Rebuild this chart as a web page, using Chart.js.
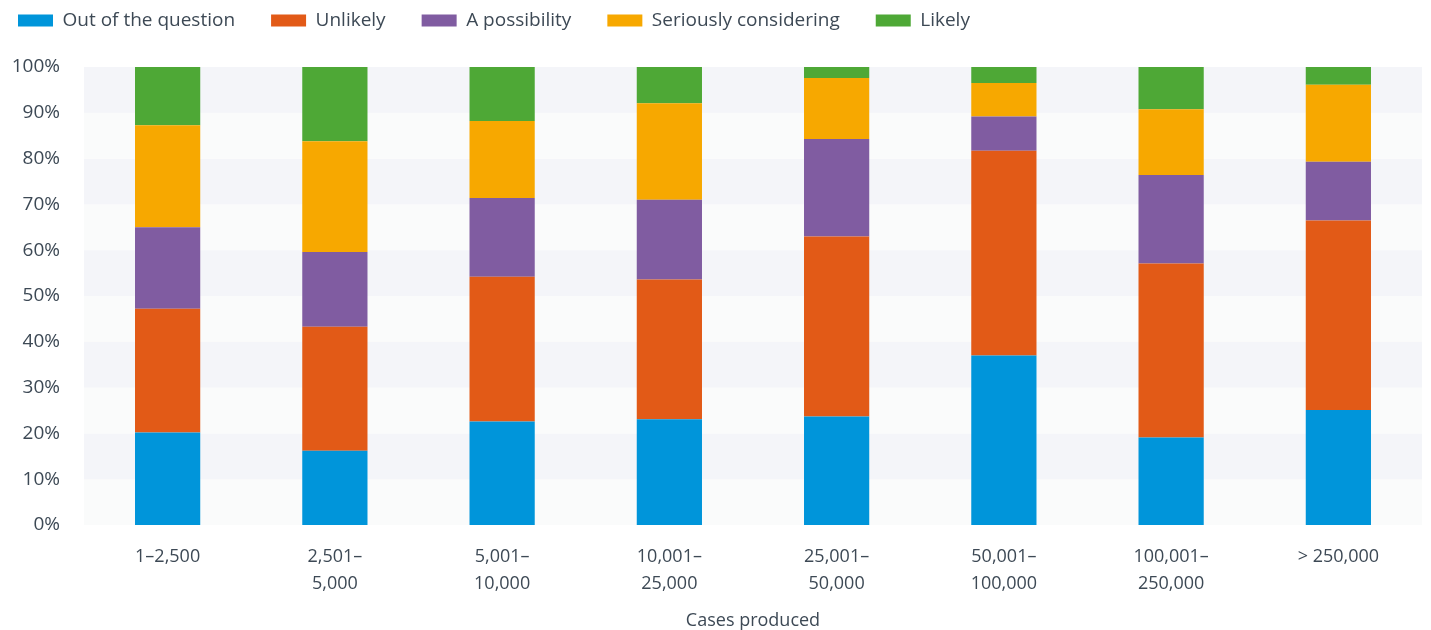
<!DOCTYPE html>
<html>
<head>
  <title>Cases produced</title>
  <script type="text/javascript" src="https://cdn.jsdelivr.net/npm/chart.js"></script>
  <style>
    html, body { margin: 0; padding: 0; background: #ffffff; }
    #chart-container { width: 1431px; height: 630px; }
  </style>
</head>
<body>
  <div id="chart-container">
    <canvas id="cases-chart"></canvas>
  </div>

  <script type="text/javascript">
    const categories = [
      ['1–2,500'], ['2,501–', '5,000'], ['5,001–', '10,000'], ['10,001–', '25,000'],
      ['25,001–', '50,000'], ['50,001–', '100,000'], ['100,001–', '250,000'], ['> 250,000']
    ];
    const outOfQuestion = [20.2, 16.2, 22.6, 23.1, 23.7, 37.0, 19.1, 25.1];
    const unlikely      = [27.0, 27.1, 31.6, 30.5, 39.3, 44.7, 38.0, 41.4];
    const possibility   = [17.8, 16.3, 17.2, 17.4, 21.3, 7.5, 19.3, 12.8];
    const seriously     = [22.3, 24.2, 16.8, 21.1, 13.3, 7.3, 14.4, 16.8];
    const likely        = [12.7, 16.2, 11.8, 7.9, 2.4, 3.5, 9.2, 3.9];
    const yTicks = [0, 10, 20, 30, 40, 50, 60, 70, 80, 90, 100];

    const TEXT = '#3d4955';
    const FONT = "'Open Sans', sans-serif";

    // alternating horizontal bands behind the bars
    const bandPlugin = {
      id: 'bands',
      beforeDatasetsDraw(chart) {
        const { ctx, chartArea, scales } = chart;
        const y = scales.y;
        ctx.save();
        for (let i = 0; i < yTicks.length - 1; i++) {
          const top = y.getPixelForValue(yTicks[i + 1]);
          const bottom = y.getPixelForValue(yTicks[i]);
          ctx.fillStyle = (i % 2 === 1) ? '#f4f5f9' : '#fafbfb';
          ctx.fillRect(chartArea.left, top, chartArea.right - chartArea.left, bottom - top);
        }
        ctx.restore();
      }
    };

    // fixed legend height so the plot starts where the original does
    const legendHeightPlugin = {
      id: 'legendHeight',
      beforeInit(chart) {
        const origFit = chart.legend.fit;
        chart.legend.fit = function() {
          origFit.call(this);
          this.height = 92;
        };
      }
    };

    function dataset(label, data, color) {
      return {
        label: label,
        data: data,
        backgroundColor: color,
        borderWidth: 0,
        barPercentage: 0.39,
        categoryPercentage: 1.0
      };
    }

    const ctx = document.getElementById('cases-chart');
    new Chart(ctx, {
      type: 'bar',
      data: {
        labels: categories,
        datasets: [
          dataset('Out of the question', outOfQuestion, '#0095da'),
          dataset('Unlikely', unlikely, '#e25a17'),
          dataset('A possibility', possibility, '#805ca1'),
          dataset('Seriously considering', seriously, '#f7a800'),
          dataset('Likely', likely, '#4ea836')
        ]
      },
      options: {
        responsive: true,
        maintainAspectRatio: false,
        animation: false,
        layout: { padding: { left: -18, right: 9, top: -25, bottom: 0 } },
        scales: {
          x: {
            stacked: true,
            grid: { display: false, drawTicks: false },
            border: { display: false },
            afterFit: s => { s.height = 105; },
            ticks: {
              color: TEXT,
              font: { family: FONT, size: 18, lineHeight: 1.5 },
              padding: 18,
              maxRotation: 0
            },
            title: {
              display: true,
              text: 'Cases produced',
              color: TEXT,
              font: { family: FONT, size: 18 },
              padding: { top: 0, bottom: -2 }
            }
          },
          y: {
            stacked: true,
            min: 0,
            max: 100,
            grid: { display: false, drawTicks: false },
            border: { display: false },
            afterFit: s => { s.width = 102; },
            ticks: {
              stepSize: 10,
              color: TEXT,
              font: { family: FONT, size: 19 },
              padding: 24,
              callback: v => v + '%'
            }
          }
        },
        plugins: {
          legend: {
            position: 'top',
            align: 'start',
            labels: {
              boxWidth: 35,
              boxHeight: 12,
              color: TEXT,
              font: { family: FONT, size: 19 },
              padding: 36
            }
          },
          tooltip: { enabled: false }
        }
      },
      plugins: [bandPlugin, legendHeightPlugin]
    });
  </script>
</body>
</html>
